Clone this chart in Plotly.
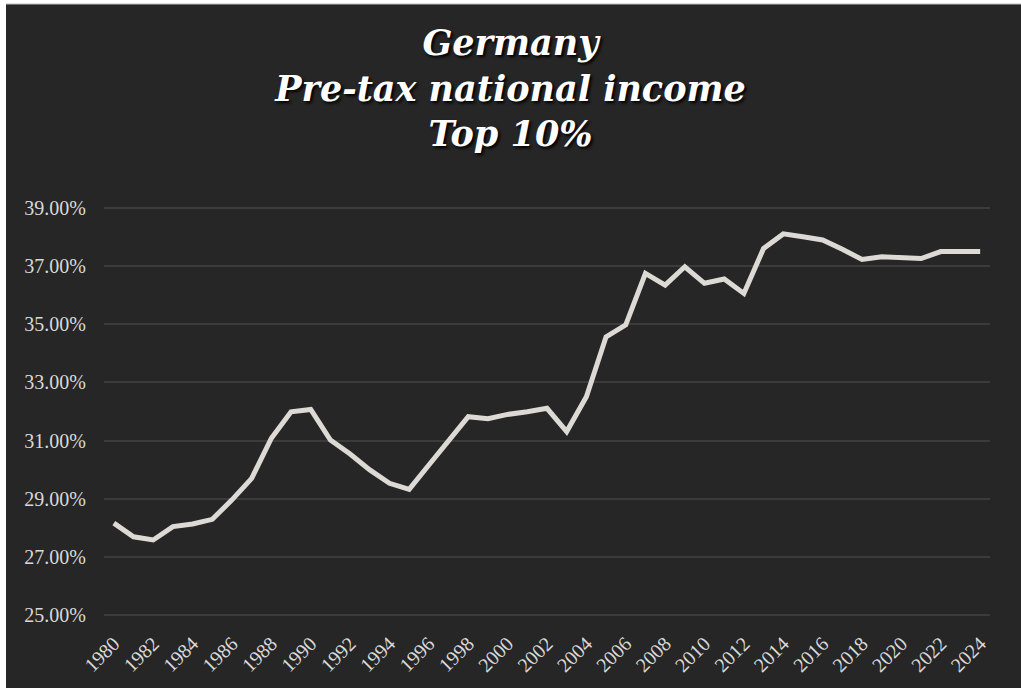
import plotly.graph_objects as go

years = list(range(1980, 2025))
top10_share = [
    28.16, 27.69, 27.58, 28.04, 28.13, 28.29, 28.96, 29.70, 31.08, 31.99,
    32.07, 31.02, 30.54, 29.99, 29.53, 29.32, 30.16, 30.96, 31.82, 31.75,
    31.90, 31.99, 32.11, 31.31, 32.51, 34.57, 34.98, 36.75, 36.35, 36.98,
    36.41, 36.56, 36.06, 37.61, 38.11, 38.01, 37.90, 37.58, 37.23, 37.32,
    37.29, 37.26, 37.50, 37.50, 37.50,
]
title_lines = ["Germany", "Pre-tax national income", "Top 10%"]
x_ticks = list(range(1980, 2025, 2))
y_ticks = list(range(25, 40, 2))

BG = "#262626"

fig = go.Figure()
fig.add_trace(go.Scatter(
    x=years, y=top10_share, mode="lines",
    line=dict(color="#dddad5", width=5),
    hoverinfo="skip", showlegend=False,
))

fig.update_layout(
    width=1021, height=688,
    margin=dict(l=104, r=31, t=207, b=72),
    paper_bgcolor="white",
    plot_bgcolor=BG,
    title=dict(
        text="<br>".join(title_lines),
        x=0.5, xref="container", xanchor="center",
        y=1 - 55 / 688, yref="container", yanchor="middle",
        font=dict(family="DejaVu Serif", size=35, color="white",
                  weight="bold", style="italic",
                  shadow="2px 2px 3px #000000"),
    ),
    shapes=[dict(
        type="rect", xref="paper", yref="paper",
        x0=(6 - 104) / 886, x1=1.2, y0=-0.4, y1=(616 - 4) / 409,
        fillcolor=BG, line=dict(width=0), layer="below",
    ), dict(
        type="line", xref="paper", yref="paper",
        x0=(6 - 104) / 886, x1=1.2, y0=(616 - 4) / 409, y1=(616 - 4) / 409,
        line=dict(color="#bdbdbd", width=1), layer="below",
    )],
    xaxis=dict(
        range=[1979.5, 2024.5], tickvals=x_ticks, ticktext=[str(v) for v in x_ticks],
        tickangle=-45, showgrid=False, zeroline=False, showline=False,
        tickfont=dict(family="Liberation Serif", size=20, color="#d9d9d9"),
        ticklabelstandoff=11,
    ),
    yaxis=dict(
        range=[24.965, 39.035], tickvals=y_ticks,
        ticktext=[f"{v:.2f}%" for v in y_ticks],
        showgrid=True, gridcolor="#3b3b3b", gridwidth=1.5,
        zeroline=False, showline=False,
        tickfont=dict(family="Liberation Serif", size=20, color="#d9d9d9"),
        ticklabelstandoff=17,
    ),
)

fig.write_html("out.html")
